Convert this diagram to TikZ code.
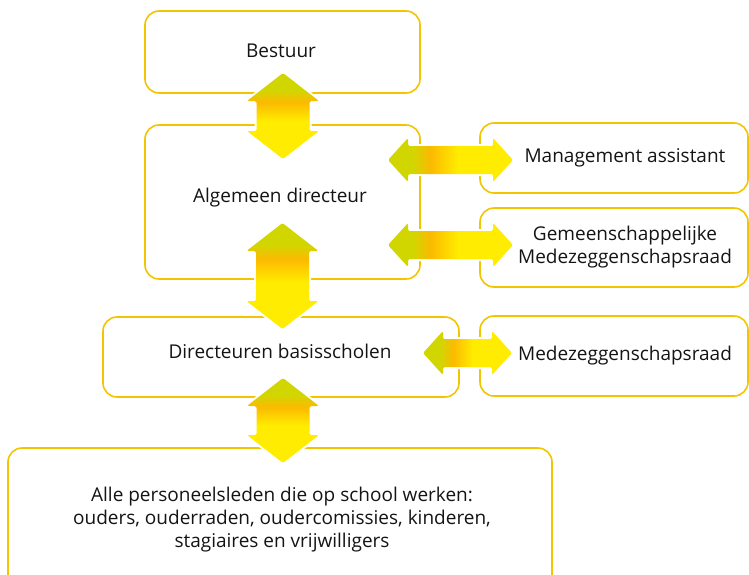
\documentclass[tikz,border=0pt]{standalone}
\usepackage{fontspec}
\setmainfont{Open Sans}
\usetikzlibrary{calc}
\definecolor{boxline}{RGB}{243,196,0}
\definecolor{agreen}{RGB}{210,214,0}
\definecolor{aorange}{RGB}{251,186,0}
\definecolor{ayellow}{RGB}{255,236,0}
\definecolor{txt}{RGB}{20,20,20}
\pgfdeclarehorizontalshading{hshade}{100bp}{color(0bp)=(agreen); color(35bp)=(agreen); color(42bp)=(aorange); color(53bp)=(ayellow); color(100bp)=(ayellow)}
\pgfdeclareverticalshading{vshade}{100bp}{color(0bp)=(ayellow); color(47bp)=(ayellow); color(58bp)=(aorange); color(65bp)=(agreen); color(100bp)=(agreen)}
\tikzset{
  box/.style={draw=boxline, line width=1.6pt, rounded corners=14pt, inner sep=0pt},
  lbl/.style={font=\fontsize{19}{23}\selectfont, text=txt, align=center, inner sep=0pt},
  arr/.style={rounded corners=1.5pt, preaction={draw=white, line width=4pt}},
}
\newcommand{\vdarrow}[2]{%
  \path[arr, shading=vshade] (#1) -- ($(#1)+(36,28)$) -- ($(#1)+(26.5,28)$) -- ($(#2)+(26.5,-28)$) -- ($(#2)+(36,-28)$) -- (#2) -- ($(#2)+(-36,-28)$) -- ($(#2)+(-26.5,-28)$) -- ($(#1)+(-26.5,28)$) -- ($(#1)+(-36,28)$) -- cycle;}
\newcommand{\hdarrow}[2]{%
  \path[arr, shading=hshade] (#1) -- ($(#1)+(20,-22)$) -- ($(#1)+(20,-14)$) -- ($(#2)+(-20,-14)$) -- ($(#2)+(-20,-22)$) -- (#2) -- ($(#2)+(-20,22)$) -- ($(#2)+(-20,14)$) -- ($(#1)+(20,14)$) -- ($(#1)+(20,22)$) -- cycle;}
\begin{document}
\begin{tikzpicture}[x=1pt,y=-1pt]
\useasboundingbox (0,0) rectangle (749,574);
\clip (0,0) rectangle (749,574);
% boxes
\node[box, minimum width=275pt, minimum height=82pt] (bestuur) at (282.5,52) {};
\node[box, minimum width=275pt, minimum height=154pt] (alg) at (282.5,202) {};
\node[box, minimum width=268pt, minimum height=70pt] (mgmt) at (614,158) {};
\node[box, minimum width=268pt, minimum height=79pt] (gem) at (614,247.5) {};
\node[box, minimum width=356pt, minimum height=80pt] (dir) at (281,357) {};
\node[box, minimum width=268pt, minimum height=80pt] (med) at (614,356) {};
\node[box, minimum width=544pt, minimum height=150pt] (all) at (280,523) {};
% labels
\node[lbl] (tbestuur) at (281,51) {Bestuur};
\node[lbl] (talg) at (280,198) {Algemeen directeur};
\node[lbl] (tmgmt) at (625,158) {Management assistant};
\node[lbl] (tgem) at (625,247) {Gemeenschappelijke\\Medezeggenschapsraad};
\node[lbl] (tdir) at (280,351) {Directeuren basisscholen};
\node[lbl] (tmed) at (625,356) {Medezeggenschapsraad};
\node[lbl] (tall) at (282,520) {Alle personeelsleden die op school werken:\\ouders, ouderraden, oudercomissies, kinderen,\\stagiaires en vrijwilligers};
% arrow end points
\coordinate (a1t) at (283,73); \coordinate (a1b) at (283,159);
\coordinate (a2t) at (282.5,223); \coordinate (a2b) at (282.5,329);
\coordinate (a3t) at (283,378); \coordinate (a3b) at (283,463);
\coordinate (h1l) at (388,160); \coordinate (h1r) at (513,160);
\coordinate (h2l) at (388,245); \coordinate (h2r) at (513,245);
\coordinate (h3l) at (423,353); \coordinate (h3r) at (512,353);
\vdarrow{a1t}{a1b}
\vdarrow{a2t}{a2b}
\vdarrow{a3t}{a3b}
\hdarrow{h1l}{h1r}
\hdarrow{h2l}{h2r}
\hdarrow{h3l}{h3r}
\end{tikzpicture}
\end{document}
